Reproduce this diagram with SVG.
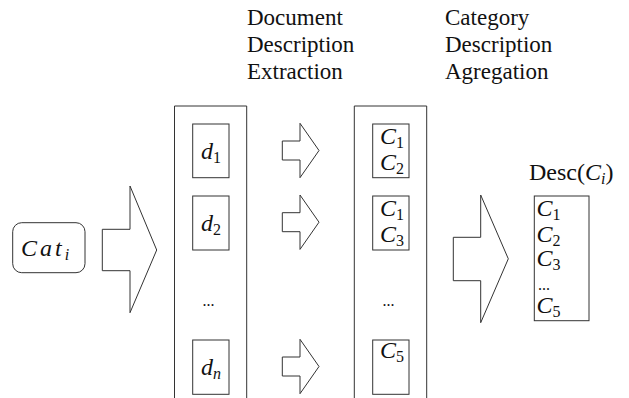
<svg xmlns="http://www.w3.org/2000/svg" width="629" height="398" viewBox="0 0 629 398">
  <style>
    .box { fill: none; stroke: #333; stroke-width: 1; }
    .arrow { fill: #fff; stroke: #333; stroke-width: 1; stroke-linejoin: miter; }
    text { font-family: 'Liberation Serif', 'DejaVu Serif', serif; fill: #111; }
    .head { font-size: 23px; }
    .math { font-size: 24px; font-style: italic; }
    .sub { font-style: normal; font-size: 16px; }
    .subi { font-style: italic; font-size: 16px; }
    .rm { font-style: normal; }
    .dots { font-size: 16px; }
  </style>
  <defs>
    <polygon id="small-arrow" class="arrow" points="282.3,141 300,141 300,123.3 319,150.5 300,177.7 300,160 282.3,160"/>
  </defs>

  <!-- stage headings -->
  <g id="heading-extraction">
    <text class="head" x="247" y="25">Document</text>
    <text class="head" x="247" y="52">Description</text>
    <text class="head" x="247" y="79">Extraction</text>
  </g>
  <g id="heading-agregation">
    <text class="head" x="445" y="25">Category</text>
    <text class="head" x="445" y="52">Description</text>
    <text class="head" x="445" y="79">Agregation</text>
  </g>

  <!-- input category -->
  <g id="category">
    <rect class="box" x="12.7" y="222.7" width="72.3" height="50" rx="9"/>
    <text class="math" x="21" y="256" letter-spacing="3">Cat<tspan class="subi" dy="4">i</tspan></text>
  </g>

  <!-- documents column -->
  <g id="documents">
    <path class="box" d="M174.5,400 V106 H246.7 V400"/>
    <g id="doc-1">
      <rect class="box" x="192.7" y="124" width="36.3" height="53.7"/>
      <text class="math" x="201" y="159">d<tspan class="sub" dy="4">1</tspan></text>
    </g>
    <g id="doc-2">
      <rect class="box" x="192.7" y="196" width="36.3" height="54"/>
      <text class="math" x="201" y="231">d<tspan class="sub" dy="4">2</tspan></text>
    </g>
    <text class="dots" x="202.5" y="306">...</text>
    <g id="doc-n">
      <rect class="box" x="192.7" y="340" width="36.3" height="54.3"/>
      <text class="math" x="201" y="375">d<tspan class="subi" dy="4">n</tspan></text>
    </g>
  </g>

  <!-- document descriptions column -->
  <g id="descriptions">
    <path class="box" d="M354.3,400 V106 H426.7 V400"/>
    <g id="desc-1">
      <rect class="box" x="372.7" y="124" width="36.3" height="53.7"/>
      <text class="math" x="380" y="144">C<tspan class="sub" dy="4">1</tspan></text>
      <text class="math" x="380" y="170">C<tspan class="sub" dy="4">2</tspan></text>
    </g>
    <g id="desc-2">
      <rect class="box" x="372.7" y="196" width="36.3" height="54"/>
      <text class="math" x="380" y="216">C<tspan class="sub" dy="4">1</tspan></text>
      <text class="math" x="380" y="242">C<tspan class="sub" dy="4">3</tspan></text>
    </g>
    <text class="dots" x="382.5" y="306">...</text>
    <g id="desc-n">
      <rect class="box" x="372.7" y="340" width="36.3" height="54.3"/>
      <text class="math" x="380" y="358">C<tspan class="sub" dy="4">5</tspan></text>
    </g>
  </g>

  <!-- category description result -->
  <g id="category-description">
    <text class="math" x="529" y="180"><tspan class="rm">Desc(</tspan>C<tspan class="subi" dy="4">i</tspan><tspan class="rm" dy="-4">)</tspan></text>
    <rect class="box" x="534.3" y="196" width="54.7" height="124.7"/>
    <text class="math" x="536.5" y="216">C<tspan class="sub" dy="4">1</tspan></text>
    <text class="math" x="536.5" y="242">C<tspan class="sub" dy="4">2</tspan></text>
    <text class="math" x="536.5" y="266">C<tspan class="sub" dy="4">3</tspan></text>
    <text class="dots" x="538" y="290">...</text>
    <text class="math" x="536.5" y="313">C<tspan class="sub" dy="4">5</tspan></text>
  </g>

  <!-- connectors: block arrows between stages -->
  <g id="connectors">
    <polygon class="arrow" points="102.3,229.3 130,229.3 130,186 156.7,250 130,312.7 130,270.7 102.3,270.7"/>
    <use href="#small-arrow"/>
    <use href="#small-arrow" y="71.7"/>
    <use href="#small-arrow" y="216"/>
    <polygon class="arrow" points="453.3,237.3 480.7,237.3 480.7,195 508.3,258.8 480.7,322.7 480.7,280.7 453.3,280.7"/>
  </g>
</svg>
